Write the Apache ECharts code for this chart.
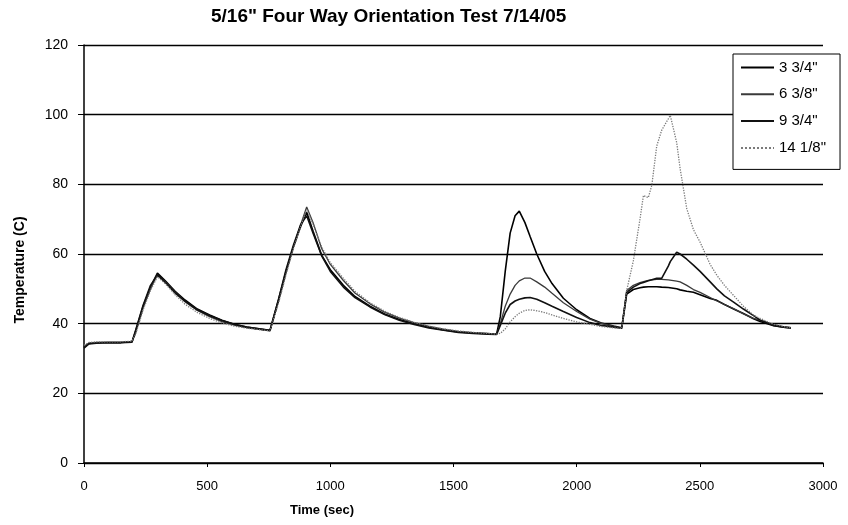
<!DOCTYPE html>
<html>
<head>
<meta charset="utf-8">
<script src="https://cdn.jsdelivr.net/npm/echarts@6/dist/echarts.min.js"></script>
<style>
html,body{margin:0;padding:0;background:#fff;}
#chart{width:848px;height:525px;}
</style>
</head>
<body>
<div id="chart"></div>
<script>
const chartTitle = '5/16" Four Way Orientation Test 7/14/05';
const xAxisName = 'Time (sec)';
const yAxisName = 'Temperature (C)';
const seriesNames = ['3 3/4"', '6 3/8"', '9 3/4"', '14 1/8"'];

const timeSec = [0, 20, 50, 100, 150, 195, 210, 240, 270, 298, 330, 370, 410, 460, 510, 560, 610, 660, 710, 755,
  762, 790, 820, 850, 880, 904, 930, 965, 1000, 1053, 1100, 1161, 1220, 1280, 1340, 1400, 1460, 1520, 1580, 1640, 1675,
  1690, 1710, 1730, 1750, 1767, 1790, 1811, 1838, 1870, 1900, 1946, 2000, 2054, 2100, 2150, 2183,
  2195, 2203, 2230, 2257, 2271, 2291, 2305, 2325, 2345, 2372, 2380, 2406, 2420, 2447, 2474, 2501, 2542, 2569, 2600, 2637,
  2677, 2718, 2745, 2800, 2840, 2870];

const temp3_75 = [33.2, 34.3, 34.5, 34.6, 34.6, 34.8, 38.0, 45.0, 50.5, 54.5, 52.3, 49.3, 46.8, 44.2, 42.5, 41.0, 39.8, 39.0, 38.5, 38.1,
  38.3, 47.0, 55.0, 62.0, 68.0, 72.0, 66.5, 59.6, 55.5, 51.0, 47.8, 45.0, 42.8, 41.2, 40.0, 39.0, 38.2, 37.6, 37.3, 37.1, 37.0,
  42, 55, 66, 71, 72.3, 69, 65, 60, 55, 51.5, 47.3, 44, 41.5, 40.2, 39.3, 38.8,
  44.5, 48.5, 49.8, 50.3, 50.5, 50.6, 50.6, 50.6, 50.5, 50.4, 50.3, 50.0, 49.7, 49.3, 49.0, 48.3, 47.2, 46.7, 45.5, 44.2,
  42.9, 41.4, 40.6, 39.4, 39.0, 38.8];

const temp6_375 = [33.5, 34.4, 34.6, 34.7, 34.7, 34.9, 37.5, 44.5, 50.0, 54.0, 52.0, 49.0, 46.3, 43.8, 42.0, 40.6, 39.6, 38.9, 38.4, 38.0,
  38.2, 46.5, 54.5, 62.0, 68.5, 73.5, 69.0, 61.5, 57.0, 52.4, 48.8, 45.7, 43.3, 41.6, 40.3, 39.2, 38.4, 37.8, 37.4, 37.2, 37.0,
  40, 45, 48.5, 51, 52.3, 53.1, 53.1, 52, 50.5, 48.7, 46, 43.5, 41.3, 40.1, 39.2, 38.7,
  45, 49.5, 51, 51.8, 52.1, 52.4, 52.6, 52.7, 52.7, 52.6, 52.5, 52.2, 52, 51, 49.8, 49, 47.5, 46.5, 45.5, 44.3,
  42.8, 41.5, 41, 39.7, 39.1, 38.8];

const temp9_75 = [33.0, 34.2, 34.4, 34.5, 34.5, 34.7, 38.2, 45.3, 51.0, 54.0, 51.8, 48.8, 46.5, 44.0, 42.3, 40.9, 39.8, 39.0, 38.5, 38.0,
  38.2, 47.0, 55.5, 62.5, 68.5, 71.0, 66.0, 59.5, 55.0, 50.5, 47.5, 44.8, 42.6, 41.0, 39.8, 38.8, 38.1, 37.5, 37.2, 37.0, 36.9,
  39.5, 43, 45.5, 46.5, 47, 47.4, 47.5, 47, 46, 45, 43.5, 41.8, 40.3, 39.5, 39, 38.7,
  45, 49, 50.5, 51.5, 51.8, 52.3, 52.6, 53, 53, 56.5, 57.8, 60.5, 60, 58.5, 56.8, 55, 52, 50, 48, 46.2,
  44.2, 42.3, 41, 39.5, 39, 38.8];

const temp14_125 = [33.8, 34.6, 34.8, 34.8, 34.8, 35.0, 37.0, 44.0, 49.5, 53.5, 51.5, 48.3, 45.6, 43.2, 41.5, 40.2, 39.3, 38.7, 38.3, 37.9,
  38.1, 46.0, 54.0, 61.5, 68.0, 72.8, 68.5, 62.0, 57.5, 53.0, 49.3, 46.0, 43.6, 41.8, 40.4, 39.3, 38.5, 37.9, 37.5, 37.2, 37.0,
  37.2, 38.5, 40.5, 42, 43, 43.8, 44, 43.7, 43.2, 42.5, 41.5, 40.5, 39.8, 39.2, 38.8, 38.6,
  45, 49.5, 58, 70, 76.8, 76.2, 79.7, 91, 95.5, 98.8, 99.8, 92, 84.5, 73, 67, 63.4, 57, 53.9, 51, 48.1,
  45, 42.4, 41.5, 39.8, 39.2, 38.8];

const xTicks = [0, 500, 1000, 1500, 2000, 2500, 3000];
const yTicks = [0, 20, 40, 60, 80, 100, 120];

const allTemps = [temp3_75, temp6_375, temp9_75, temp14_125];
const styles = [
  {color: '#000000', width: 1.6, type: 'solid'},
  {color: '#3a3a3a', width: 1.3, type: 'solid'},
  {color: '#111111', width: 1.6, type: 'solid'},
  {color: '#7a7a7a', width: 1.3, type: 'dotted'}
];

const FONT = "'Liberation Sans Narrow', 'Liberation Sans', Arial, sans-serif";
const BOLD = "'Liberation Sans', Arial, sans-serif";

const series = seriesNames.map((name, i) => ({
  name: name,
  type: 'line',
  symbol: 'none',
  showSymbol: false,
  animation: false,
  data: timeSec.map((t, k) => [t, allTemps[i][k]]),
  lineStyle: styles[i],
  itemStyle: {color: styles[i].color}
}));

const chart = echarts.init(document.getElementById('chart'), null, {renderer: 'canvas'});
chart.setOption({
  backgroundColor: '#ffffff',
  animation: false,
  title: {
    text: chartTitle,
    left: 206, top: 2,
    textStyle: {fontFamily: BOLD, fontSize: 19, fontWeight: 'bold', color: '#000'}
  },
  grid: {left: 84, right: 25, top: 45, bottom: 62, containLabel: false},
  xAxis: {
    type: 'value', min: xTicks[0], max: xTicks[xTicks.length - 1], interval: 500,
    axisLine: {show: true, onZero: false, lineStyle: {color: '#000', width: 1.5}},
    axisTick: {show: true, inside: false, length: 4, lineStyle: {color: '#000', width: 1}},
    axisLabel: {margin: 17, fontFamily: FONT, fontSize: 13, color: '#000', formatter: v => String(v)},
    splitLine: {show: false}
  },
  yAxis: {
    type: 'value', min: yTicks[0], max: yTicks[yTicks.length - 1], interval: 20,
    axisLine: {show: true, lineStyle: {color: '#000', width: 1.5}},
    axisTick: {show: true, inside: false, length: 6, lineStyle: {color: '#000', width: 1}},
    axisLabel: {margin: 16, fontFamily: FONT, fontSize: 14, color: '#000', formatter: v => String(v)},
    splitLine: {show: true, lineStyle: {color: '#000', width: 1.4}}
  },
  legend: {
    orient: 'vertical',
    left: 733, top: 54,
    padding: [6, 14, 14, 7],
    itemGap: 11.8,
    itemWidth: 33, itemHeight: 14,
    backgroundColor: '#ffffff',
    borderColor: '#000', borderWidth: 1,
    itemStyle: {opacity: 0},
    textStyle: {fontFamily: FONT, fontSize: 15, color: '#000'},
    data: seriesNames
  },
  graphic: [
    {type: 'text', x: 20, y: 270, rotation: Math.PI / 2,
      style: {text: yAxisName, fontFamily: BOLD, fontSize: 14, fontWeight: 'bold', fill: '#000', align: 'center', verticalAlign: 'middle'}},
    {type: 'text', x: 322, y: 510,
      style: {text: xAxisName, fontFamily: BOLD, fontSize: 13, fontWeight: 'bold', fill: '#000', align: 'center', verticalAlign: 'middle'}}
  ],
  series: series
});
</script>
</body>
</html>
